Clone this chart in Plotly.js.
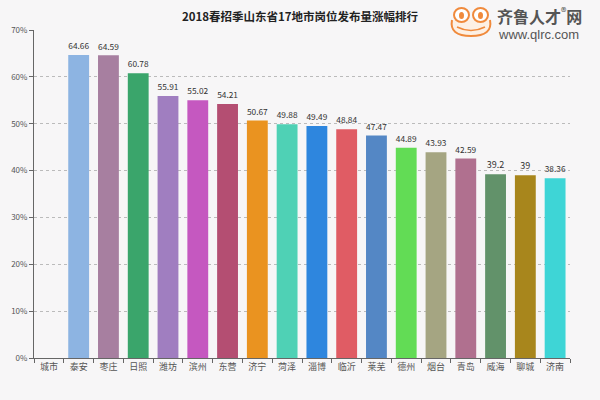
<!DOCTYPE html>
<html><head><meta charset="utf-8">
<script src="https://cdn.plot.ly/plotly-3.0.1.min.js"></script>
<style>html,body{margin:0;padding:0;background:#f7f6f7}#c{width:600px;height:400px}</style>
</head><body><div id="c"></div>
<script>
const cities = ['城市','泰安','枣庄','日照','潍坊','滨州','东营','济宁','菏泽','淄博','临沂','莱芜','德州','烟台','青岛','威海','聊城','济南'];
const values = [null,64.66,64.59,60.78,55.91,55.02,54.21,50.67,49.88,49.49,48.84,47.47,44.89,43.93,42.59,39.2,39,38.36];
const labels = ['','64.66','64.59','60.78','55.91','55.02','54.21','50.67','49.88','49.49','48.84','47.47','44.89','43.93','42.59','39.2','39','38.36'];
const colors = ['#ffffff','#8db4e2','#a77fa0','#3aa56b','#a07ec0','#c558c0','#b44e72','#ea9320','#4fd1b5','#2e86de','#e05c64','#5487c5','#62dc55','#a5a582','#b0708f','#62926a','#a8861c','#3ed5d6'];
const yTicks = [0,10,20,30,40,50,60,70];

const font = '"Noto Sans CJK SC", "Noto Sans", sans-serif';
const orange = '#f08a3c';
function px(o){ return Object.assign({xref:'paper',yref:'paper',xsizemode:'pixel',ysizemode:'pixel',xanchor:1.0,yanchor:1.0}, o); }
Plotly.newPlot('c', [{
  type:'bar', x:cities, y:values, text:labels, textposition:'outside',
  textfont:{size:9,color:'#333',family:font}, cliponaxis:false,
  marker:{color:colors}, hoverinfo:'none'
}], {
  width:600, height:400,
  paper_bgcolor:'#f7f6f7', plot_bgcolor:'#f7f6f7',
  margin:{l:34,r:30,t:30,b:42},
  bargap:0.3,
  showlegend:false,
  font:{family:font,color:'#555',size:9},
  title:{text:'<b>2018春招季山东省17地市岗位发布量涨幅排行</b>', x:0.5, xanchor:'center', xref:'container', y:0.957, yanchor:'middle', yref:'container', font:{size:11.5,color:'#222',family:font}},
  xaxis:{type:'category', tickson:'boundaries', ticks:'outside', ticklen:4, tickcolor:'#666',
    showline:true, linecolor:'#666', linewidth:1, showgrid:false, tickfont:{size:9,color:'#555'}},
  yaxis:{range:[0,70], tickvals:yTicks, ticktext:yTicks.map(v=>v+'%'), ticks:'outside', ticklen:4, tickcolor:'#666',
    showline:true, linecolor:'#666', linewidth:1, showgrid:true, gridcolor:'#bbb', griddash:'dot', gridwidth:1,
    zeroline:false, tickfont:{size:8,color:'#555'}},
  shapes:[
    px({type:'path',path:'M -118 10 Q -121 -6 -99 -6 Q -77 -6 -80 10',line:{color:orange,width:2},fillcolor:'#fdf0e4'}),
    px({type:'path',path:'M -113 3 Q -99 -4 -85 3',line:{color:orange,width:1.5}}),
    px({type:'circle',x0:-116,x1:-101,y0:8,y1:22,line:{color:orange,width:2},fillcolor:'#fff'}),
    px({type:'circle',x0:-97,x1:-82,y0:8,y1:22,line:{color:orange,width:2},fillcolor:'#fff'}),
    px({type:'circle',x0:-111,x1:-106,y0:11,y1:18,line:{width:0},fillcolor:orange}),
    px({type:'circle',x0:-92,x1:-87,y0:11,y1:18,line:{width:0},fillcolor:orange})
  ],
  annotations:[
    {xref:'paper',yref:'paper',x:1.0,y:1.0,xshift:-75,yshift:15,xanchor:'left',yanchor:'middle',showarrow:false,text:'<b>齐鲁人才</b><sup>®</sup><b>网</b>',font:{size:16,color:'#555',family:font}},
    {xref:'paper',yref:'paper',x:1.0,y:1.0,xshift:-74,yshift:-4,xanchor:'left',yanchor:'middle',showarrow:false,text:'www.qlrc.com',font:{size:13,color:'#555',family:'"Liberation Sans", Arial, sans-serif'}}
  ]
}, {staticPlot:true});
</script></body></html>
